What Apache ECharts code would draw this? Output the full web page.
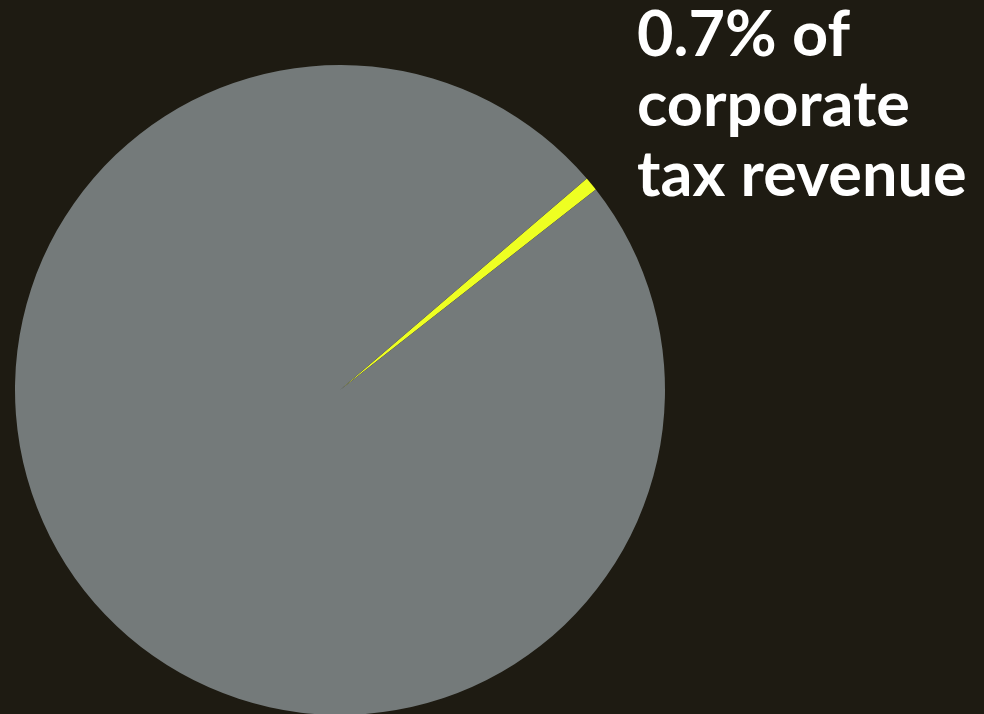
<!DOCTYPE html>
<html>
<head>
<meta charset="utf-8">
<style>
  html, body { margin: 0; padding: 0; background: #1e1b12; }
  #chart { width: 984px; height: 714px; }
</style>
<script src="https://cdn.jsdelivr.net/npm/echarts@6/dist/echarts.min.js"></script>
</head>
<body>
<div id="chart"></div>
<script>
// Share of corporate tax revenue
const categories = ['Share', 'Remainder'];
const shareValues = [0.7, 99.3];
const sliceColors = ['#eeff22', '#747a7a'];
const headline = ['0.7% of', 'corporate', 'tax revenue'];

const chart = echarts.init(document.getElementById('chart'));
chart.setOption({
  backgroundColor: '#1e1b12',
  animation: false,
  title: {
    text: headline.join('\n'),
    left: 637,
    top: 1,
    padding: 0,
    textStyle: {
      color: '#ffffff',
      fontFamily: 'Lato',
      fontWeight: 'bold',
      fontSize: 63,
      lineHeight: 70
    }
  },
  series: [{
    type: 'pie',
    center: [340, 390],
    radius: [0, 325],
    startAngle: 40.6,
    clockwise: true,
    label: { show: false },
    labelLine: { show: false },
    emphasis: { disabled: true },
    itemStyle: { borderWidth: 0 },
    data: categories.map((name, i) => ({
      name: name,
      value: shareValues[i],
      itemStyle: { color: sliceColors[i] }
    }))
  }]
});
</script>
</body>
</html>
